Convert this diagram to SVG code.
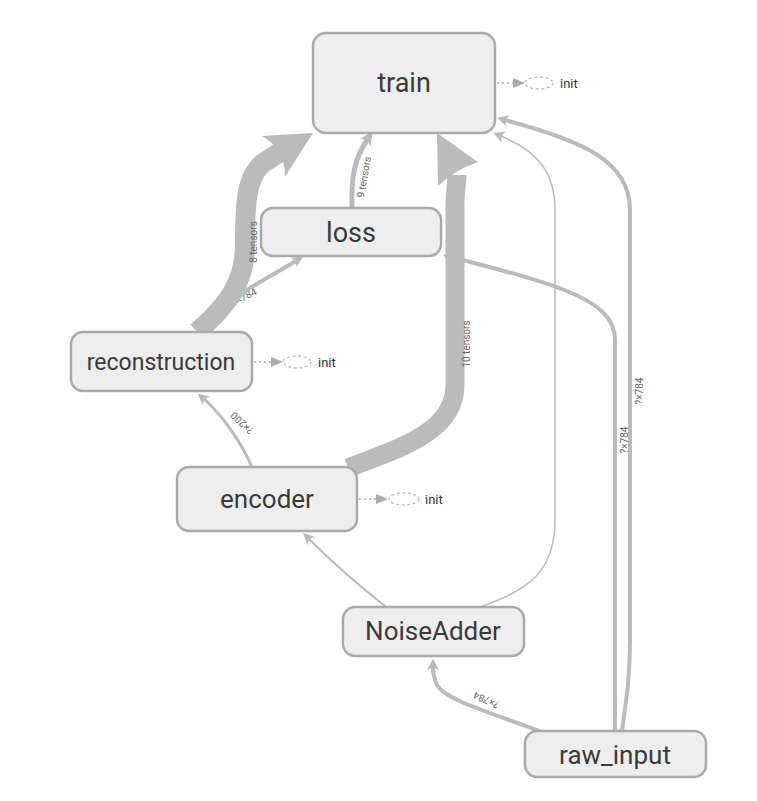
<svg xmlns="http://www.w3.org/2000/svg" width="757" height="801" viewBox="0 0 757 801">
<style>
.node rect{fill:#eeeeee;stroke:#aaaaaa;stroke-width:2.5}
.node text{font-family:Roboto,"Liberation Sans",sans-serif;fill:#3a3a3a;text-anchor:middle;dominant-baseline:central}
.edge{fill:none;stroke:#bbbbbb}
.head{fill:#bbbbbb}
.lbl{font-family:Roboto,"Liberation Sans",sans-serif;font-size:10px;fill:#666666;text-anchor:middle;dominant-baseline:central}
.dot{stroke:#aaaaaa;stroke-width:1.5;stroke-dasharray:2,3;fill:none}
.ell{fill:none;stroke:#bbbbbb;stroke-width:1.3;stroke-dasharray:3,2.5}
.initt{font-family:Roboto,"Liberation Sans",sans-serif;font-size:13px;fill:#333333;dominant-baseline:central}
</style>
<defs>
<marker id="arr" viewBox="0 0 10 10" markerWidth="12" markerHeight="12" refX="3" refY="5" orient="auto" markerUnits="userSpaceOnUse">
<path d="M0,0 L10,5 L0,10 C3,7 3,3 0,0 Z" fill="#bbbbbb"/>
</marker>
<marker id="arrL" viewBox="0 0 10 10" markerWidth="14" markerHeight="14" refX="3" refY="5" orient="auto" markerUnits="userSpaceOnUse">
<path d="M0,0 L10,5 L0,10 C3,7 3,3 0,0 Z" fill="#bbbbbb"/>
</marker>
</defs>
<g id="connectors">
<text class="lbl" transform="translate(244,297) rotate(-27)">?×784</text>
<path class="edge" stroke-width="4" d="M205,330 C225,310 240,293 255,285 L296,261" marker-end="url(#arr)"/>
<path class="edge" stroke-width="20" d="M197,332 C228,305 245,282 245,245 C245,205 246,178 262,164 L280,152"/>
<path class="head" d="M313,133 L262,136 Q285,149 285,177 Z"/>
<text class="lbl" transform="translate(253,242) rotate(-90)">8 tensors</text>
<path class="edge" stroke-width="5" d="M352,208 C351,175 355,158 367,140" marker-end="url(#arrL)"/>
<text class="lbl" transform="translate(364,177) rotate(-80)">9 tensors</text>
<path class="edge" stroke-width="19" d="M348,468 C400,448 455,432 455,385 L455,205 C455,192 457,182 457,175"/>
<path class="head" d="M437,133 L438,186 Q455,170 478,162 Z"/>
<text class="lbl" transform="translate(466,344) rotate(-90)">10 tensors</text>
<path class="edge" stroke-width="3" d="M252,467 C240,440 222,415 204,399" marker-end="url(#arr)"/>
<text class="lbl" transform="translate(242,423) rotate(-137)">?×200</text>
<path class="edge" stroke-width="2" d="M385,606 C362,588 330,560 309,539" marker-end="url(#arr)"/>
<path class="edge" stroke-width="1.5" d="M482,606 C530,590 555,570 555,520 L555,210 C555,170 535,150 501,136" marker-end="url(#arr)"/>
<path class="edge" stroke-width="4" d="M622,731 C626,700 630,680 630,640 L630,210 C630,160 580,140 505,120" marker-end="url(#arr)"/>
<text class="lbl" transform="translate(639,391) rotate(-90)">?×784</text>
<path class="edge" stroke-width="4" d="M615,731 L615,340 C615,300 560,285 451,257" marker-end="url(#arr)"/>
<text class="lbl" transform="translate(624,440) rotate(-90)">?×784</text>
<path class="edge" stroke-width="4" d="M550,735 C490,712 445,700 437,685 C434,678 433,672 433,667" marker-end="url(#arr)"/>
<text class="lbl" transform="translate(486,700) rotate(-155)">?×784</text>
</g>
<g id="train" class="node">
<rect x="313" y="33" width="182" height="100" rx="13"/>
<text x="404" y="83" font-size="27">train</text>
</g>
<g id="train-init">
<line class="dot" x1="497" y1="83" x2="514" y2="83"/>
<path d="M513,78 L525,83 L513,88 Z" fill="#aaaaaa"/>
<ellipse class="ell" cx="539" cy="83" rx="14" ry="6"/>
<text class="initt" x="560" y="83">init</text>
</g>
<g id="loss" class="node">
<rect x="261" y="208" width="180" height="48" rx="12"/>
<text x="351" y="233" font-size="27">loss</text>
</g>
<g id="reconstruction" class="node">
<rect x="71" y="332" width="181" height="59" rx="12"/>
<text x="161" y="362" font-size="23">reconstruction</text>
</g>
<g id="reconstruction-init">
<line class="dot" x1="254" y1="362" x2="272" y2="362"/>
<path d="M271,357 L283,362 L271,367 Z" fill="#aaaaaa"/>
<ellipse class="ell" cx="297" cy="362" rx="14" ry="6"/>
<text class="initt" x="318" y="362">init</text>
</g>
<g id="encoder" class="node">
<rect x="177" y="467" width="180" height="64" rx="12"/>
<text x="267" y="499" font-size="26">encoder</text>
</g>
<g id="encoder-init">
<line class="dot" x1="359" y1="499" x2="377" y2="499"/>
<path d="M376,494 L388,499 L376,504 Z" fill="#aaaaaa"/>
<ellipse class="ell" cx="404" cy="499" rx="15" ry="6"/>
<text class="initt" x="425" y="499">init</text>
</g>
<g id="NoiseAdder" class="node">
<rect x="343" y="607" width="181" height="49" rx="12"/>
<text x="433" y="631" font-size="26">NoiseAdder</text>
</g>
<g id="raw_input" class="node">
<rect x="525" y="731" width="181" height="46" rx="12"/>
<text x="615" y="755" font-size="26">raw_input</text>
</g>
</svg>
